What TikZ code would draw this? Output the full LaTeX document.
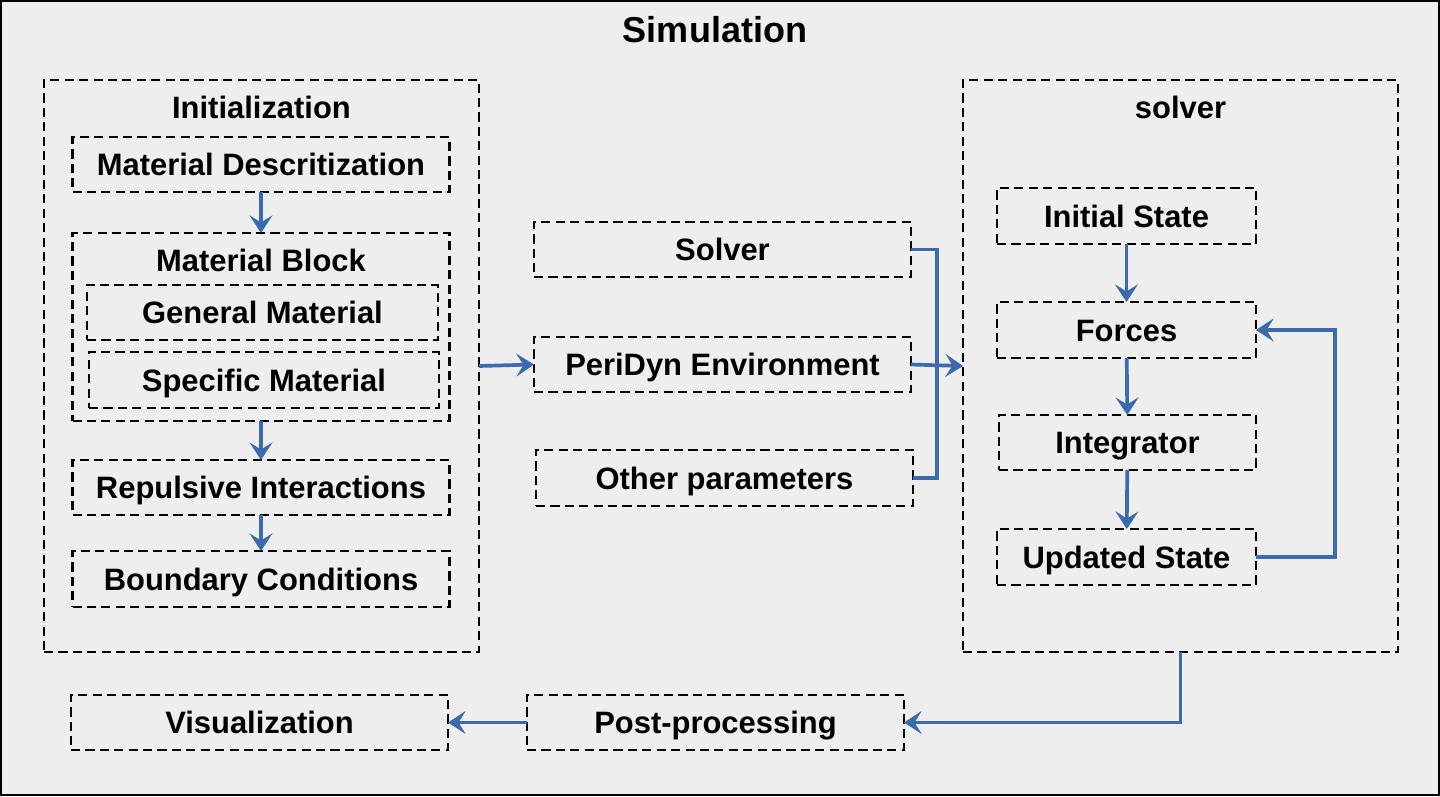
\documentclass[tikz,border=0pt]{standalone}
\usepackage{fontspec}
\setmainfont{Liberation Sans}
\usepackage{xcolor}
\usepackage{tikz}
\usetikzlibrary{arrows.meta, positioning}

\definecolor{flowblue}{RGB}{59,107,174}
\definecolor{canvas}{RGB}{238,238,238}

\begin{document}
\begin{tikzpicture}[
  node distance=1.16cm,
  box/.style={rectangle, draw, line width=1.5pt, dash pattern=on 5.2pt off 3pt,
              minimum width=7.54cm, minimum height=1.1cm, inner sep=0pt, outer sep=0pt,
              text height=12.6pt, text depth=0pt,
              font=\fontsize{17.6}{20}\selectfont\bfseries},
  frame/.style={rectangle, draw, line width=1.5pt, dash pattern=on 5.2pt off 3pt,
                minimum width=8.7cm, minimum height=11.44cm, inner sep=0pt, outer sep=0pt},
  heading/.style={font=\fontsize{17.6}{20}\selectfont\bfseries, inner sep=0pt,
                  text height=12.6pt, text depth=0pt},
  arrow/.style={-{Stealth[length=10pt, width=13pt, inset=4pt]}, line width=2.1pt, draw=flowblue},
  link/.style={line width=2.1pt, draw=flowblue},
]
  \useasboundingbox (0,0) rectangle (28.8,-15.92);
  \draw[fill=canvas, line width=1.1pt] (0.02,-0.02) rectangle (28.78,-15.9);
  \node[font=\fontsize{20.5}{24}\selectfont\bfseries, text height=14.7pt, text depth=0pt] (sim) at (14.3,-0.6) {Simulation};

  % initialization column
  \node[frame] (init) at (5.23,-7.32) {};
  \node[heading] (inittitle) at (5.23,-2.14) {Initialization};
  \node[box] (desc) at (5.22,-3.29) {Material Descritization};
  \node[box, minimum height=3.76cm] (block) at (5.22,-6.54) {};
  \node[heading] (blocktitle) at (5.22,-5.2) {Material Block};
  \node[box, minimum width=7.02cm] (gen) at (5.25,-6.25) {General Material};
  \node[box, minimum width=7.0cm, minimum height=1.12cm] (spec) at (5.28,-7.6) {Specific Material};
  \node[box] (rep) at (5.22,-9.75) {Repulsive Interactions};
  \node[box, minimum height=1.12cm] (bc) at (5.22,-11.58) {Boundary Conditions};

  % inputs
  \node[box] (solv) at (14.45,-4.99) {Solver};
  \node[box] (peri) at (14.45,-7.29) {PeriDyn Environment};
  \node[box, minimum height=1.12cm] (other) at (14.49,-9.56) {Other parameters};

  % solver column
  \node[frame] (solvbox) at (23.61,-7.32) {};
  \node[heading] (solvtitle) at (23.61,-2.14) {solver};
  \node[box, minimum width=5.18cm, minimum height=1.12cm] (init0) at (22.53,-4.32) {Initial State};
  \node[box, minimum width=5.18cm, minimum height=1.12cm, below=of init0] (forc) {Forces};
  \node[box, minimum width=5.14cm, below=1.14cm of forc.south, anchor=north, xshift=0.02cm] (integ) {Integrator};
  \node[box, minimum width=5.18cm, minimum height=1.12cm, below=1.18cm of integ.south, anchor=north, xshift=-0.02cm] (upd) {Updated State};

  % output
  \node[box] (vis) at (5.19,-14.45) {Visualization};
  \node[box] (post) at (14.31,-14.45) {Post-processing};

  \draw[arrow] (desc) -- (block);
  \draw[arrow] (block) -- (rep);
  \draw[arrow] (rep) -- (bc);

  \draw[arrow] (init.east) -- (peri.west);
  \draw[link] (solv.east) -- ++(0.52,0) |- (other.east);
  \draw[arrow] (peri.east) -- (solvbox.west);

  \draw[arrow] (init0) -- (forc);
  \draw[arrow] (forc) -- (integ);
  \draw[arrow] (integ) -- (upd);
  \draw[arrow] (upd.east) -- ++(1.58,0) |- (forc.east);

  \draw[arrow] (solvbox.south) |- (post.east);
  \draw[arrow] (post) -- (vis);
\end{tikzpicture}
\end{document}
